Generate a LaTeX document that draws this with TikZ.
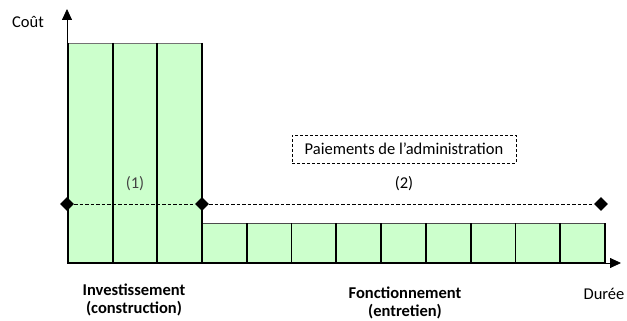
\documentclass[tikz,border=0pt]{standalone}
\usepackage{fontspec}
\setmainfont{Carlito}
\usetikzlibrary{arrows.meta,shapes.geometric}
\definecolor{barfill}{HTML}{CCFFCC}
\definecolor{lbl}{HTML}{444444}
\begin{document}
\begin{tikzpicture}[x=1pt,y=-1pt,
  divider/.style={draw=black,line width=1.8pt},
  axis/.style={draw=black,line width=0.8pt,-{Triangle[length=11pt,width=10pt]}},
  dashline/.style={draw=black,dash pattern=on 3.5pt off 2pt,line width=1pt},
  dmd/.style={diamond,fill=black,inner sep=0pt,minimum size=14pt},
  txt/.style={font=\fontsize{16.5}{19}\selectfont},
  btxt/.style={font=\fontsize{16.5}{18.5}\selectfont\bfseries,align=center},
  boxlbl/.style={draw=black,dash pattern=on 3pt off 2pt,line width=0.7pt,font=\fontsize{16.5}{19}\selectfont,minimum width=224pt,minimum height=28pt,inner sep=0pt}]
\useasboundingbox (0,0) rectangle (627,321);
% bars
\fill[barfill] (68,43) rectangle (202,263);
\draw[draw=black!55,line width=0.6pt] (68,43) -- (202,43);
\fill[barfill] (202,223) rectangle (605,263);
\draw[draw=black!70,line width=0.6pt] (202,223) -- (605,223);
\foreach \x in {112.7,157.3,202} \draw[divider] (\x,43) -- (\x,263);
\foreach \i in {1,...,9} \draw[divider] ({202+\i*44.78},223) -- ({202+\i*44.78},263);
% axes
\coordinate (O) at (67,263);
\coordinate (ytip) at (67,9);
\coordinate (xtip) at (621,263);
\draw[axis] (O) -- (ytip);
\draw[axis] (O) -- (xtip);
\draw[divider] (68,263) -- (605,263);
\draw[divider] (68,43) -- (68,263);
% dashed line with diamonds
\node[dmd] (d1) at (67,204) {};
\node[dmd] (d2) at (202,204) {};
\node[dmd] (d3) at (601,204) {};
\draw[dashline] (d1) -- (d2);
\draw[dashline] (d2) -- (d3);
% labels
\node[txt] (cout) at (28,22) {Coût};
\node[txt] (duree) at (604,294) {Durée};
\node[txt,text=lbl] (l1) at (135,184) {(1)};
\node[txt] (l2) at (404,184) {(2)};
\node[boxlbl] (pay) at (404,149) {Paiements de l’administration};
\node[btxt] (inv) at (134,300) {Investissement\\(construction)};
\node[btxt] (fon) at (405,303) {Fonctionnement\\(entretien)};
\end{tikzpicture}
\end{document}
